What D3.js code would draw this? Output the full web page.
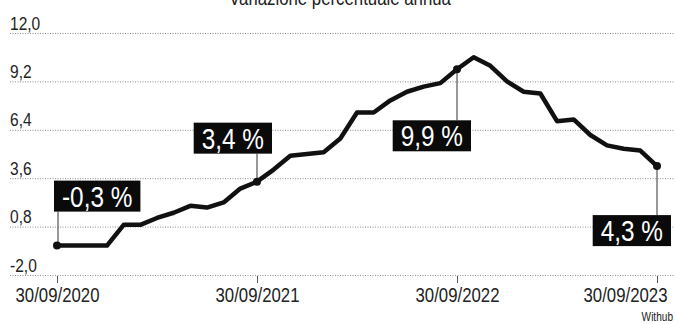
<!DOCTYPE html>
<html>
<head>
<meta charset="utf-8">
<script src="https://cdn.jsdelivr.net/npm/d3@7"></script>
<style>
  html, body { margin: 0; padding: 0; background: #fff; }
  svg { display: block; }
  text { font-family: "Liberation Sans", Arial, sans-serif; }
</style>
</head>
<body>
<svg id="chart" width="675" height="324"></svg>
<script>
// ---- data ----
const title = "Variazione percentuale annua";
const months = ["2020-09","2020-10","2020-11","2020-12",
  "2021-01","2021-02","2021-03","2021-04","2021-05","2021-06","2021-07","2021-08","2021-09","2021-10","2021-11","2021-12",
  "2022-01","2022-02","2022-03","2022-04","2022-05","2022-06","2022-07","2022-08","2022-09","2022-10","2022-11","2022-12",
  "2023-01","2023-02","2023-03","2023-04","2023-05","2023-06","2023-07","2023-08","2023-09"];
const values = [-0.3,-0.3,-0.3,-0.3,
  0.9,0.9,1.3,1.6,2.0,1.9,2.2,3.0,3.4,4.1,4.9,5.0,
  5.1,5.9,7.4,7.4,8.1,8.6,8.9,9.1,9.9,10.6,10.1,9.2,
  8.6,8.5,6.9,7.0,6.1,5.5,5.3,5.2,4.3];
const yTicks = [-2.0, 0.8, 3.6, 6.4, 9.2, 12.0];
const yTickLabels = ["-2,0", "0,8", "3,6", "6,4", "9,2", "12,0"];
const xTickIdx = [0, 12, 24, 36];
const xTickLabels = ["30/09/2020", "30/09/2021", "30/09/2022", "30/09/2023"];
const calloutIdx = [0, 12, 24, 36];
const calloutLabels = ["-0,3 %", "3,4 %", "9,9 %", "4,3 %"];
const source = "Withub";

// ---- layout (positions only) ----
const calloutLayout = [
  { anchor: "left",  dx: -3, dy: -34, above: true },
  { anchor: "right", dx: 15, dy: -28, above: true },
  { anchor: "right", dx: 14, dy: 51,  above: false },
  { anchor: "right", dx: 14, dy: 49,  above: false }
];
const SQUEEZE = 0.84;

const svg = d3.select("#chart");
const x = d3.scaleLinear().domain([0, months.length - 1]).range([57, 657]);
const y = d3.scaleLinear().domain([-2, 12]).range([275, 33]);

// horizontally condense a text element around its own x anchor
function condense(sel, s = SQUEEZE) {
  sel.each(function () {
    const ax = +(this.getAttribute("x") || 0);
    d3.select(this).attr("transform", `translate(${ax},0) scale(${s},1) translate(${-ax},0)`);
  });
}

// title (partly cut at the top edge, as in the reference)
svg.append("text").attr("x", 340).attr("y", 5).attr("text-anchor", "middle")
  .attr("font-size", 20).attr("fill", "#222").text(title).call(condense);

// y axis gridlines
const yAxis = d3.axisLeft(y).tickValues(yTicks).tickSize(-665)
  .tickFormat((d, i) => yTickLabels[i]);
const gy = svg.append("g").attr("transform", "translate(10,0)").call(yAxis);
gy.select(".domain").remove();
gy.selectAll(".tick line").attr("stroke", "#8a8a8a").attr("stroke-dasharray", "1,1.5").attr("stroke-width", 1);
gy.selectAll(".tick text").attr("x", 0).attr("dy", -4).attr("text-anchor", "start")
  .attr("font-size", 18.5).attr("fill", "#222").call(condense);

// x axis
const xAxis = d3.axisBottom(x).tickValues(xTickIdx).tickSize(7).tickPadding(5)
  .tickFormat((d, i) => xTickLabels[i]);
const gx = svg.append("g").attr("transform", "translate(0,276)").call(xAxis);
gx.select(".domain").remove();
gx.selectAll(".tick line").attr("stroke", "#555").attr("stroke-width", 1);
gx.selectAll(".tick text").attr("font-size", 20).attr("fill", "#222")
  .attr("text-anchor", (d, i) => i === xTickIdx.length - 1 ? "end" : "middle")
  .attr("x", (d, i) => i === xTickIdx.length - 1 ? 10 : 0)
  .call(condense);

// line
const line = d3.line().x((d, i) => x(i)).y(d => y(d));
svg.append("path").datum(values).attr("d", line).attr("fill", "none")
  .attr("stroke", "#111").attr("stroke-width", 4.5)
  .attr("stroke-linejoin", "round").attr("stroke-linecap", "round");

// callouts
calloutIdx.forEach((idx, k) => {
  const L = calloutLayout[k];
  const px = x(idx), py = y(values[idx]);
  const g = svg.append("g");
  const t = g.append("text").attr("font-size", 29).attr("fill", "#fff")
    .attr("text-anchor", "middle").text(calloutLabels[k]);
  const tw = t.node().getComputedTextLength() * SQUEEZE;
  const w = tw + 16;
  const h = 31;
  const bx = L.anchor === "left" ? px + L.dx : px + L.dx - w;
  const by = L.above ? py + L.dy - h : py + L.dy;
  const lx = px + (L.anchor === "left" ? 1 : 0);
  g.insert("line", "text").attr("x1", lx).attr("x2", lx)
    .attr("y1", py).attr("y2", L.above ? by + h : by)
    .attr("stroke", "#333").attr("stroke-width", 1);
  g.insert("rect", "text").attr("x", bx).attr("y", by).attr("width", w).attr("height", h).attr("fill", "#0a0a0a");
  t.attr("x", bx + w / 2).attr("y", by + h - 5).call(condense);
  g.append("circle").attr("cx", px).attr("cy", py).attr("r", 4).attr("fill", "#111");
});

// source
svg.append("text").attr("x", 673).attr("y", 321).attr("text-anchor", "end")
  .attr("font-size", 12).attr("fill", "#222").text(source).call(condense);
</script>
</body>
</html>
